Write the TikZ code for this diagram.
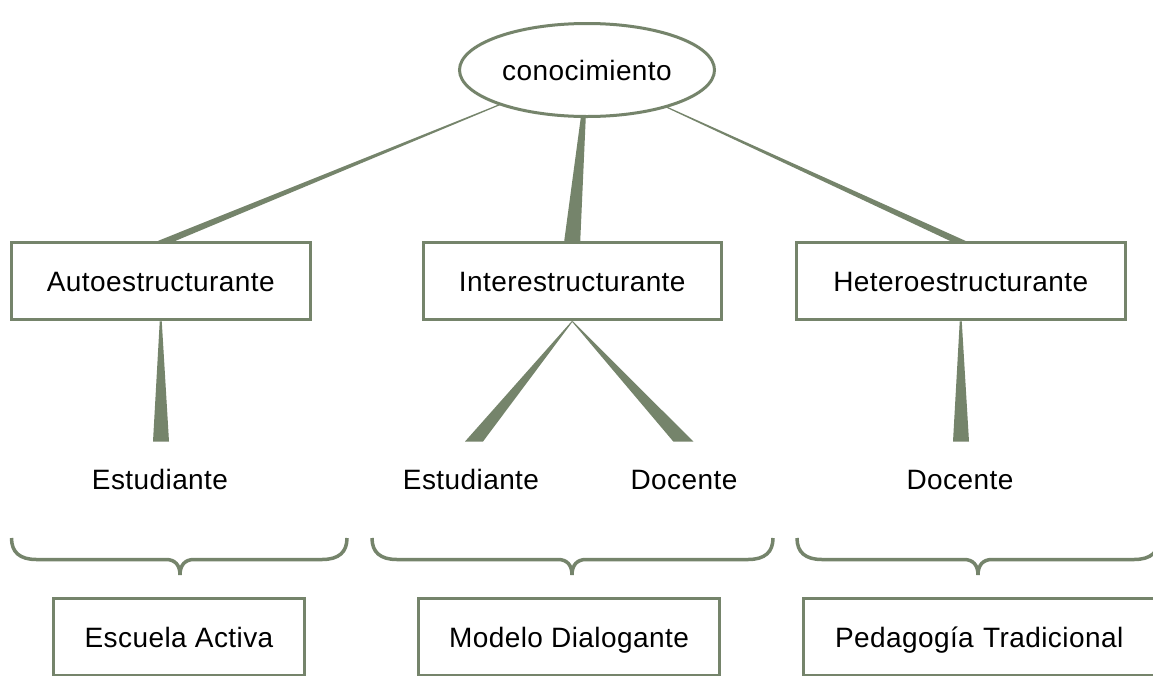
\documentclass[tikz,border=0pt]{standalone}
\usepackage{fontspec}
\setmainfont{Liberation Sans}[LetterSpace=1.5]
\usetikzlibrary{calc,backgrounds,shapes.geometric}
\definecolor{sage}{RGB}{117,132,107}
\newcommand{\sagebrace}[3]{%
  \draw[bracestroke] (#1,538) .. controls (#1,552) and (#1+8,559.5) .. (#1+25,559.5)
    -- (#2-14,559.5) .. controls (#2-5,559.5) and (#2,565) .. (#2,575)
    .. controls (#2,565) and (#2+5,559.5) .. (#2+14,559.5)
    -- (#3-25,559.5) .. controls (#3-8,559.5) and (#3,552) .. (#3,538);}
\begin{document}
\begin{tikzpicture}[x=1pt,y=-1pt,
  every node/.style={font=\fontsize{28}{34}\selectfont, text height=20pt, text depth=0pt, inner sep=0pt},
  box/.style={draw=sage, line width=3pt, rectangle, minimum height=77.5pt},
  oval/.style={draw=sage, line width=3pt, ellipse, minimum width=255pt, minimum height=93pt, fill=white},
  wedge/.style={fill=sage, draw=none},
  bracestroke/.style={draw=sage, line width=3.5pt}]
\useasboundingbox (0,0) rectangle (1153,675);

\node[oval] (top) at (587,70) {conocimiento};
\node[box, minimum width=298.5pt] (auto) at (160.75,281) {Autoestructurante};
\node[box, minimum width=298.5pt] (inter) at (572.25,281) {Interestructurante};
\node[box, minimum width=328.5pt] (hetero) at (960.75,281) {Heteroestructurante};
\node (est1) at (160,479) {Estudiante};
\node (est2) at (471,479) {Estudiante};
\node (doc1) at (684,479) {Docente};
\node (doc2) at (960,479) {Docente};
\node[box, minimum width=251.7pt] (esc) at (179,637) {Escuela Activa};
\node[box, minimum width=301pt] (mod) at (569,637) {Modelo Dialogante};
\node[box, minimum width=363pt, text width=300pt, align=left] (ped) at (985,637) {Pedagogía Tradicional};

\begin{scope}[on background layer]
  \fill[white] (0,0) rectangle (1153,675);
  % upper connectors
  \fill[wedge] ($(top.center)+(-82.4,32.1)$) -- ($(top.center)+(-81.6,32.9)$)
     -- ($(auto.north)+(15,0)$) -- ($(auto.north)+(-2.5,0)$) -- cycle;
  \fill[wedge] ($(top.center)+(-5.2,40)$) -- ($(top.center)+(-0.9,40)$)
     -- ($(inter.north)+(8,0)$) -- ($(inter.north)+(-8,0)$) -- cycle;
  \fill[wedge] ($(top.center)+(74.6,35.4)$) -- ($(top.center)+(75.4,34.6)$)
     -- ($(hetero.north)+(4.5,0)$) -- ($(hetero.north)+(-11,0)$) -- cycle;
  % lower connectors
  \fill[wedge] ($(auto.south)+(-1,0)$) -- ($(auto.south)+(1,0)$)
     -- ($(est1.center)+(9,-37.5)$) -- ($(est1.center)+(-7,-37.5)$) -- cycle;
  \fill[wedge] ($(inter.south)+(-0.6,0)$) -- ($(inter.south)+(0.6,0)$)
     -- ($(est2.center)+(12,-37.5)$) -- ($(est2.center)+(-6,-37.5)$) -- cycle;
  \fill[wedge] ($(inter.south)+(-0.6,0)$) -- ($(inter.south)+(0.6,0)$)
     -- ($(doc1.center)+(9.3,-37.5)$) -- ($(doc1.center)+(-10.7,-37.5)$) -- cycle;
  \fill[wedge] ($(hetero.south)+(-1,0)$) -- ($(hetero.south)+(1,0)$)
     -- ($(doc2.center)+(9,-37.5)$) -- ($(doc2.center)+(-7,-37.5)$) -- cycle;
\end{scope}

% braces
\sagebrace{11.5}{180}{347}
\sagebrace{372}{572}{773}
\sagebrace{797}{978}{1159}
\end{tikzpicture}
\end{document}
